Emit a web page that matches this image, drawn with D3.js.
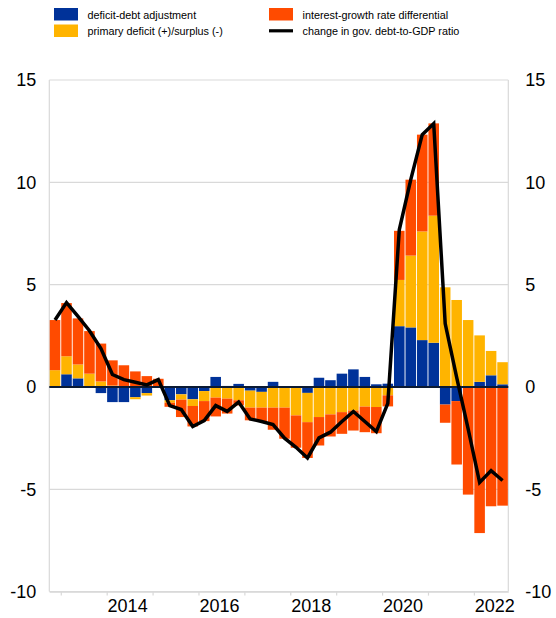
<!DOCTYPE html>
<html>
<head>
<meta charset="utf-8">
<script src="https://cdn.jsdelivr.net/npm/d3@7"></script>
<style>
  html, body { margin: 0; padding: 0; background: #fff; }
  svg { display: block; font-family: "Liberation Sans", Arial, sans-serif; }
</style>
</head>
<body>
<svg id="chart" width="556" height="618"></svg>
<script>
// Quarterly decomposition of the change in the government debt-to-GDP ratio (pp)
const quarters = [
  "2012Q4",
  "2013Q1","2013Q2","2013Q3","2013Q4",
  "2014Q1","2014Q2","2014Q3","2014Q4",
  "2015Q1","2015Q2","2015Q3","2015Q4",
  "2016Q1","2016Q2","2016Q3","2016Q4",
  "2017Q1","2017Q2","2017Q3","2017Q4",
  "2018Q1","2018Q2","2018Q3","2018Q4",
  "2019Q1","2019Q2","2019Q3","2019Q4",
  "2020Q1","2020Q2","2020Q3","2020Q4",
  "2021Q1","2021Q2","2021Q3","2021Q4",
  "2022Q1","2022Q2","2022Q3"
];

const deficitDebtAdjustment = [
  0.00,
  0.62, 0.42, 0.00, -0.30,
  -0.74, -0.74, -0.50, -0.30,
  0.00, -0.65, -0.36, -0.60,
  -0.20, 0.49, 0.05, 0.15,
  -0.18, -0.24, 0.25, 0.00,
  0.00, -0.29, 0.45, 0.33,
  0.65, 0.86, 0.49, 0.13,
  0.16, 2.97, 2.91, 2.29,
  2.16, -0.86, -0.69, 0.00,
  0.25, 0.57, 0.13
];

const primaryDeficit = [
  0.82,
  0.88, 0.68, 0.65, 0.27,
  0.07, 0.02, -0.10, -0.12,
  -0.05, -0.12, -0.26, -0.33,
  -0.49, -0.52, -0.57, -0.65,
  -0.83, -0.77, -1.01, -1.01,
  -1.39, -1.43, -1.47, -1.34,
  -1.23, -1.15, -0.96, -0.98,
  -0.41, 2.26, 3.51, 5.31,
  6.21, 4.87, 4.25, 3.27,
  2.27, 1.19, 1.08
];

const interestGrowthDifferential = [
  2.45,
  2.60, 2.25, 2.08, 1.85,
  1.23, 1.04, 0.76, 0.53,
  0.40, -0.20, -0.85, -1.00,
  -0.98, -0.92, -0.73, -0.25,
  -0.62, -0.70, -1.08, -1.52,
  -1.58, -1.75, -1.39, -1.08,
  -1.06, -0.98, -1.25, -1.28,
  -0.54, 2.40, 3.71, 4.73,
  4.51, -0.89, -3.10, -5.26,
  -7.14, -5.83, -5.80
];

const debtRatioChange = [
  3.27,
  4.12, 3.45, 2.75, 1.88,
  0.61, 0.36, 0.23, 0.10,
  0.36, -0.91, -1.10, -1.93,
  -1.64, -0.91, -1.19, -0.74,
  -1.56, -1.69, -1.84, -2.50,
  -2.95, -3.47, -2.49, -2.21,
  -1.69, -1.20, -1.69, -2.18,
  -0.80, 7.68, 10.13, 12.33,
  12.87, 3.10, 0.47, -2.05,
  -4.67, -4.09, -4.57
];

const yearTicks = [2013, 2014, 2015, 2016, 2017, 2018, 2019, 2020, 2021, 2022];
const yearLabels = [2014, 2016, 2018, 2020, 2022];
const yTicks = [-10, -5, 0, 5, 10, 15];

const seriesNames = [
  "deficit-debt adjustment",
  "primary deficit (+)/surplus (-)",
  "interest-growth rate differential",
  "change in gov. debt-to-GDP ratio"
];
const colors = { dda: "#003299", pd: "#FFB400", igr: "#FF4B00", line: "#000000" };

const svg = d3.select("#chart");
const plotLeft = 49.3, plotRight = 508.3, plotTop = 80, plotBottom = 591.6;

const x = d3.scaleBand().domain(quarters).range([plotLeft, plotRight])
  .paddingInner(0.08).paddingOuter(0.04);
const xYear = d3.scaleLinear().domain([2012.75, 2022.75]).range([plotLeft, plotRight]);
const y = d3.scaleLinear().domain([-10, 15]).range([plotBottom, plotTop]);

// Gridlines
svg.append("g").selectAll("line").data(yTicks.filter(d => d !== 0)).join("line")
  .attr("x1", plotLeft).attr("x2", plotRight)
  .attr("y1", d => y(d)).attr("y2", d => y(d))
  .attr("stroke", "#d9d9d9").attr("stroke-width", 1.2);

// Plot frame sides
svg.append("g").selectAll("line").data([plotLeft, plotRight]).join("line")
  .attr("x1", d => d).attr("x2", d => d)
  .attr("y1", plotTop).attr("y2", plotBottom)
  .attr("stroke", "#d9d9d9").attr("stroke-width", 1.2);

// Stacked bars
const rows = quarters.map((q, i) => ({
  q,
  dda: deficitDebtAdjustment[i],
  pd: primaryDeficit[i],
  igr: interestGrowthDifferential[i]
}));
const stacked = d3.stack().keys(["dda", "pd", "igr"])
  .offset(d3.stackOffsetDiverging)(rows);

svg.append("g").selectAll("g").data(stacked).join("g")
  .attr("fill", s => colors[s.key])
  .selectAll("rect").data(s => s).join("rect")
  .attr("x", d => x(d.data.q))
  .attr("width", x.bandwidth())
  .attr("y", d => y(Math.max(d[0], d[1])))
  .attr("height", d => Math.abs(y(d[0]) - y(d[1])));

// Zero line
svg.append("line")
  .attr("x1", plotLeft).attr("x2", plotRight)
  .attr("y1", y(0)).attr("y2", y(0))
  .attr("stroke", "#0b1a33").attr("stroke-width", 2);

// Debt ratio change line
const line = d3.line()
  .x((d, i) => x(quarters[i]) + x.bandwidth() / 2)
  .y(d => y(d));
svg.append("path").datum(debtRatioChange)
  .attr("d", line)
  .attr("fill", "none")
  .attr("stroke", colors.line)
  .attr("stroke-width", 3.5)
  .attr("stroke-linejoin", "miter");

// Bottom axis: year boundary ticks, labels centred on each year
const xAxis = d3.axisBottom(xYear).tickValues(yearTicks)
  .tickFormat("").tickSize(4).tickSizeOuter(0);
const gx = svg.append("g").attr("transform", `translate(0,${plotBottom})`).call(xAxis);
gx.select(".domain").attr("stroke", "#d9d9d9").attr("stroke-width", 1.2);
gx.selectAll(".tick line").attr("stroke", "#d9d9d9").attr("stroke-width", 1.2);

svg.append("g").selectAll("text").data(yearLabels).join("text")
  .attr("x", d => xYear(d + 0.5) - 2)
  .attr("y", 612)
  .attr("text-anchor", "middle")
  .attr("font-size", 18)
  .attr("fill", "#000")
  .text(d => d);

// Left and right value axes (plain hyphen for negatives)
const yFmt = d => String(d);
const gl = svg.append("g").attr("transform", `translate(${plotLeft - 10},0)`)
  .call(d3.axisLeft(y).tickValues(yTicks).tickFormat(yFmt).tickSize(0));
const gr = svg.append("g").attr("transform", `translate(${plotRight + 14},0)`)
  .call(d3.axisRight(y).tickValues(yTicks).tickFormat(yFmt).tickSize(0));
[gl, gr].forEach(g => {
  g.select(".domain").remove();
  g.selectAll("text").attr("font-size", 18).attr("fill", "#000")
    .attr("font-family", "'Liberation Sans', Arial, sans-serif");
});

// Legend
const legend = svg.append("g").attr("font-size", 10.8).attr("fill", "#000");
const legendItems = [
  { name: seriesNames[0], key: "dda", type: "rect", x: 54, y: 8 },
  { name: seriesNames[1], key: "pd", type: "rect", x: 54, y: 24.5 },
  { name: seriesNames[2], key: "igr", type: "rect", x: 269, y: 8 },
  { name: seriesNames[3], key: "line", type: "line", x: 269, y: 24.5 }
];
legendItems.forEach(it => {
  if (it.type === "rect") {
    legend.append("rect").attr("x", it.x).attr("y", it.y)
      .attr("width", 24).attr("height", 12.5).attr("fill", colors[it.key]);
  } else {
    legend.append("line").attr("x1", it.x).attr("x2", it.x + 24)
      .attr("y1", it.y + 6.3).attr("y2", it.y + 6.3)
      .attr("stroke", colors.line).attr("stroke-width", 3.2);
  }
  legend.append("text").attr("x", it.x + 33.5).attr("y", it.y + 10.5).text(it.name);
});
</script>
</body>
</html>
